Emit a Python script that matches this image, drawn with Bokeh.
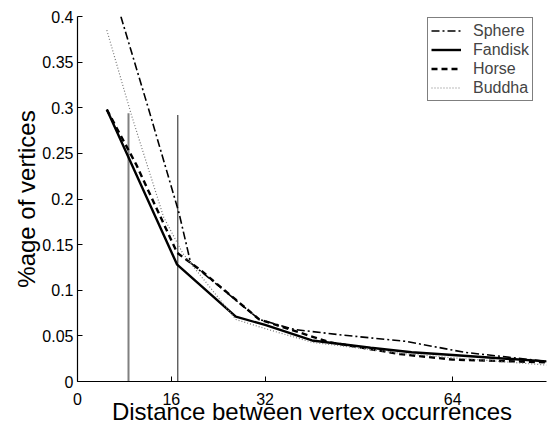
from bokeh.plotting import figure
from bokeh.embed import file_html
from bokeh.resources import INLINE
from bokeh.models import FixedTicker, CustomJSTickFormatter, Legend, LegendItem

# Data
sphere_x = [7.4, 12.2, 17.3, 19.3, 31.0, 37.0, 45.0, 56.0, 66.0, 80.0]
sphere_y = [0.400, 0.297, 0.185, 0.130, 0.068, 0.057, 0.051, 0.044, 0.032, 0.022]

fandisk_x = [5.0, 17.0, 27.0, 32.0, 40.0, 50.0, 57.0, 64.0, 80.0]
fandisk_y = [0.298, 0.128, 0.071, 0.062, 0.045, 0.037, 0.032, 0.029, 0.022]

horse_x = [5.0, 10.0, 17.0, 21.0, 26.0, 31.0, 43.0, 55.0, 64.0, 80.0]
horse_y = [0.298, 0.238, 0.141, 0.122, 0.095, 0.068, 0.043, 0.030, 0.024, 0.021]

buddha_x = [5.0, 9.2, 14.7, 18.0, 27.0, 32.0, 40.0, 55.0, 64.0, 80.0]
buddha_y = [0.385, 0.292, 0.180, 0.140, 0.068, 0.058, 0.043, 0.031, 0.026, 0.018]

vline_x = [8.7, 17.1]
vline_top = [0.294, 0.292]

x_ticks = [0, 16, 32, 64]
y_ticks = [0, 0.05, 0.1, 0.15, 0.2, 0.25, 0.3, 0.35, 0.4]

x_label = "Distance between vertex occurrences"
y_label = "%age of vertices"

FONT = "Liberation Sans"

p = figure(width=548, height=427, output_backend="svg", toolbar_location=None,
           x_range=(0, 80.0), y_range=(0, 0.4),
           min_border_left=77, min_border_right=2, min_border_top=16, min_border_bottom=10)
p.grid.visible = False
p.outline_line_color = None
p.background_fill_color = "white"
p.border_fill_color = "white"

# vertical marker lines
p.segment(x0=vline_x, y0=[0, 0], x1=vline_x, y1=vline_top,
          line_color=["#808080", "#505050"], line_width=[2, 1.3])

r_sphere = p.line(sphere_x, sphere_y, line_color="black", line_width=1.6, line_dash="8 3 2 3")
r_fandisk = p.line(fandisk_x, fandisk_y, line_color="black", line_width=2.4)
r_horse = p.line(horse_x, horse_y, line_color="black", line_width=2.4, line_dash="6 4")
r_buddha = p.line(buddha_x, buddha_y, line_color="#777777", line_width=1.2, line_dash="1 2")

legend = Legend(items=[
    LegendItem(label="Sphere", renderers=[r_sphere]),
    LegendItem(label="Fandisk", renderers=[r_fandisk]),
    LegendItem(label="Horse", renderers=[r_horse]),
    LegendItem(label="Buddha", renderers=[r_buddha]),
], location=(350, 280))
legend.margin = 0
legend.padding = 3
legend.spacing = 0
legend.label_height = 19
legend.glyph_height = 19
legend.glyph_width = 30
legend.label_standoff = 12
legend.label_text_font = FONT
legend.label_text_font_size = "16px"
legend.border_line_color = "black"
legend.border_line_width = 1
legend.background_fill_alpha = 1
p.add_layout(legend)

for ax in (p.xaxis[0], p.yaxis[0]):
    ax.axis_line_color = "black"
    ax.axis_line_width = 1.2
    ax.major_tick_in = 5
    ax.major_tick_out = 0
    ax.minor_tick_line_color = None
    ax.major_label_text_font = FONT
    ax.major_label_text_font_size = "16px"
    ax.major_label_text_color = "black"
    ax.axis_label_text_font = FONT
    ax.axis_label_text_font_size = "24px"
    ax.axis_label_text_font_style = "normal"
    ax.axis_label_text_color = "black"

p.xaxis.ticker = FixedTicker(ticks=x_ticks)
p.yaxis.ticker = FixedTicker(ticks=y_ticks)
p.yaxis.formatter = CustomJSTickFormatter(code="""
return tick.toFixed(2).replace(/0+$/, '').replace(/\\.$/, '');
""")
p.xaxis.axis_label = x_label
p.yaxis.axis_label = y_label
p.xaxis.major_label_standoff = 11
p.yaxis.major_label_standoff = 4
p.xaxis.axis_label_standoff = -10
p.yaxis.axis_label_standoff = -1

open("out.html", "w").write(file_html(p, INLINE))
